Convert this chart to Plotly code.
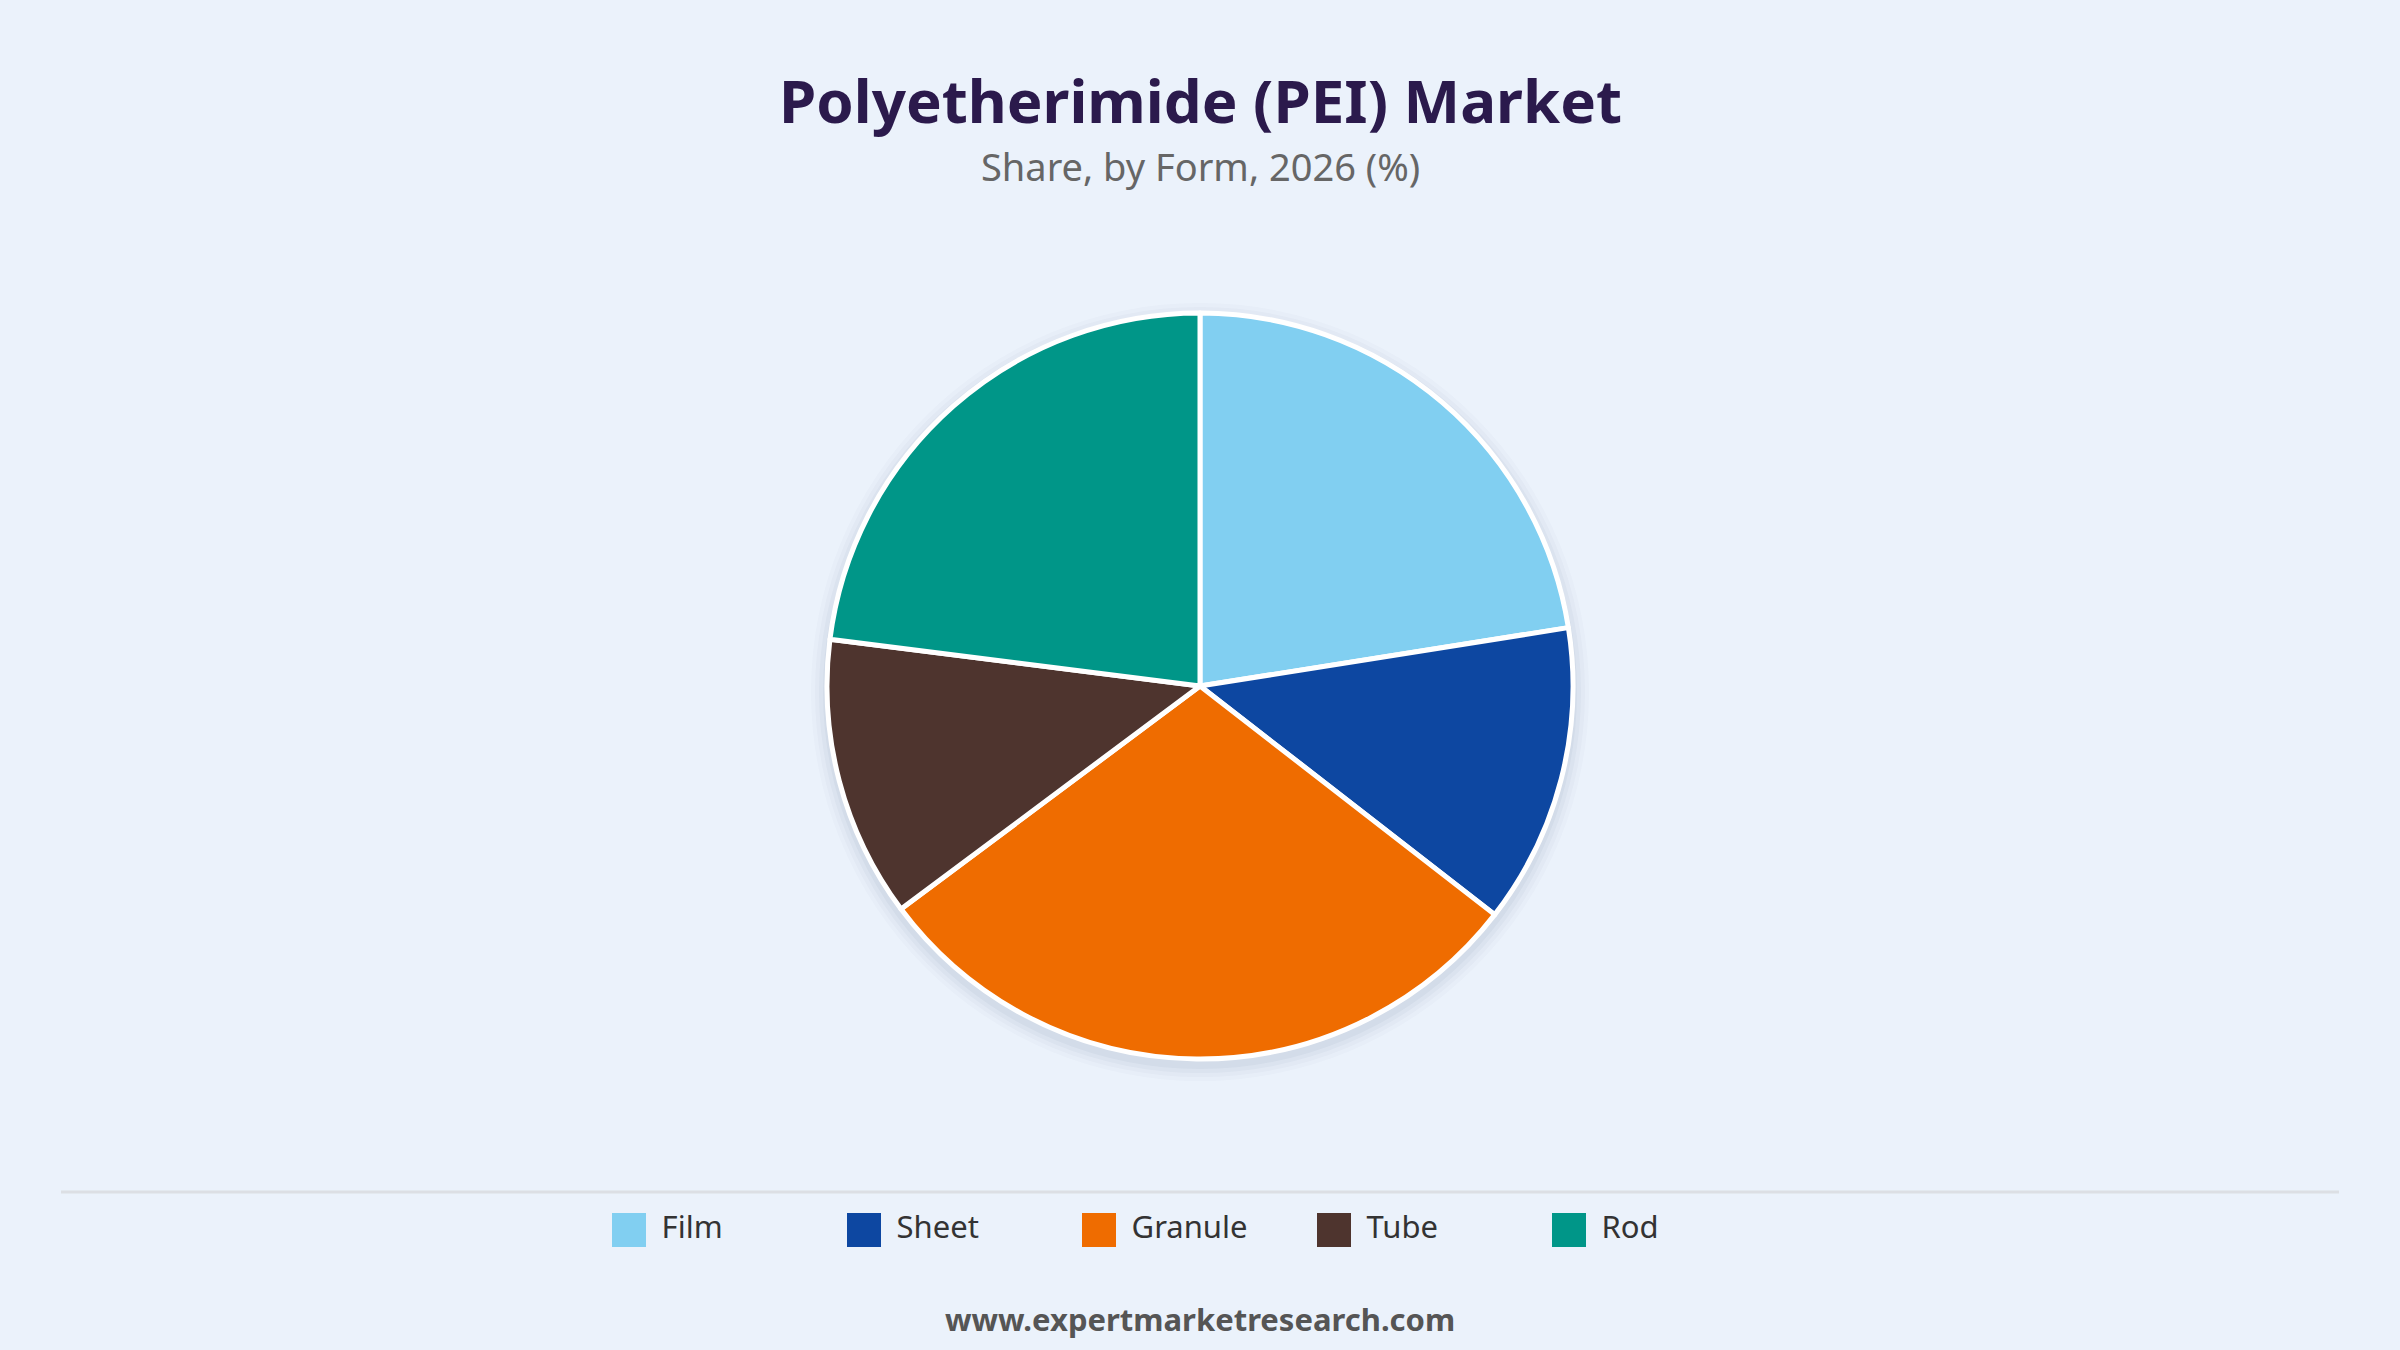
import plotly.graph_objects as go

# share by form, 2026 (%)
forms  = ["Film", "Sheet", "Granule", "Tube", "Rod"]
shares = [22.5, 13.0, 29.3, 12.2, 23.0]
colors = ["#81CFF1", "#0D47A1", "#EF6C00", "#4E342E", "#009688"]

TITLE    = "Polyetherimide (PEI) Market"
SUBTITLE = "Share, by Form, 2026 (%)"
FOOTER   = "www.expertmarketresearch.com"

W, H   = 2400, 1350
BG     = "#EBF2FB"
FONT   = "Noto Sans"

# pie placement (px) -> paper domain
CX, CY, R = 1200, 686, 373
dom_x = [(CX - R) / W, (CX + R) / W]
dom_y = [(H - CY - R) / H, (H - CY + R) / H]

# legend row placement (px)
LEG_Y, LEG_X0, LEG_STEP = 1230, 629, 235

fig = go.Figure()

# soft drop shadow behind the pie
for i, a in enumerate([0.035, 0.03, 0.025, 0.02]):
    grow = 4 + i * 4
    fig.add_shape(
        type="circle", xref="paper", yref="paper",
        x0=(CX - R - grow) / W, x1=(CX + R + grow) / W,
        y0=(H - CY - 6 - R - grow) / H, y1=(H - CY - 6 + R + grow) / H,
        fillcolor=f"rgba(40,60,90,{a})", line_width=0, layer="below",
    )

fig.add_trace(go.Pie(
    labels=forms, values=shares,
    marker=dict(colors=colors, line=dict(color="#FFFFFF", width=5)),
    sort=False, direction="clockwise", rotation=0,
    textinfo="none", hoverinfo="label+percent",
    domain=dict(x=dom_x, y=dom_y),
    showlegend=False,
))

# ── legend row (big square swatches) ────────────────────────────────────────
fig.add_trace(go.Scatter(
    x=forms, y=["Form"] * len(forms),
    mode="markers+text",
    marker=dict(symbol="square", size=34, color=colors, line=dict(width=0)),
    text=forms, texttemplate="\u2004%{text}", textposition="middle right",
    textfont=dict(family=FONT, size=31, color="#333333"),
    hoverinfo="skip", showlegend=False,
    cliponaxis=False,
))

# ── header / footer text ─────────────────────────────────────────────────────
fig.add_annotation(text=f"<b>{TITLE}</b>", x=0.5, y=(H - 100) / H,
                   xref="paper", yref="paper", showarrow=False,
                   yanchor="middle",
                   font=dict(family=FONT, size=60, color="#2B1A4C"))
fig.add_annotation(text=SUBTITLE, x=0.5, y=(H - 166) / H,
                   xref="paper", yref="paper", showarrow=False,
                   yanchor="middle",
                   font=dict(family=FONT, size=38, color="#666666"))
fig.add_annotation(text=f"<b>{FOOTER}</b>", x=0.5, y=(H - 1319) / H,
                   xref="paper", yref="paper", showarrow=False,
                   yanchor="middle",
                   font=dict(family=FONT, size=31, color="#555555"))

# separator above legend
fig.add_shape(type="line", xref="paper", yref="paper",
              x0=61 / W, x1=2339 / W, y0=(H - 1192) / H, y1=(H - 1192) / H,
              line=dict(color="#DCDFE4", width=3))

x_lo = -LEG_X0 / LEG_STEP
x_hi = x_lo + W / LEG_STEP

fig.update_layout(
    width=W, height=H,
    paper_bgcolor=BG, plot_bgcolor="rgba(0,0,0,0)",
    margin=dict(l=0, r=0, t=0, b=0),
    font=dict(family=FONT, color="#333333"),
    showlegend=False,
    xaxis=dict(visible=False, range=[x_lo, x_hi], domain=[0, 1],
               fixedrange=True),
    yaxis=dict(visible=False, domain=[(H - LEG_Y - 30) / H, (H - LEG_Y + 30) / H],
               fixedrange=True),
)

fig.write_html("out.html", config={"displayModeBar": False},
               post_script="document.body.style.margin='0';")
